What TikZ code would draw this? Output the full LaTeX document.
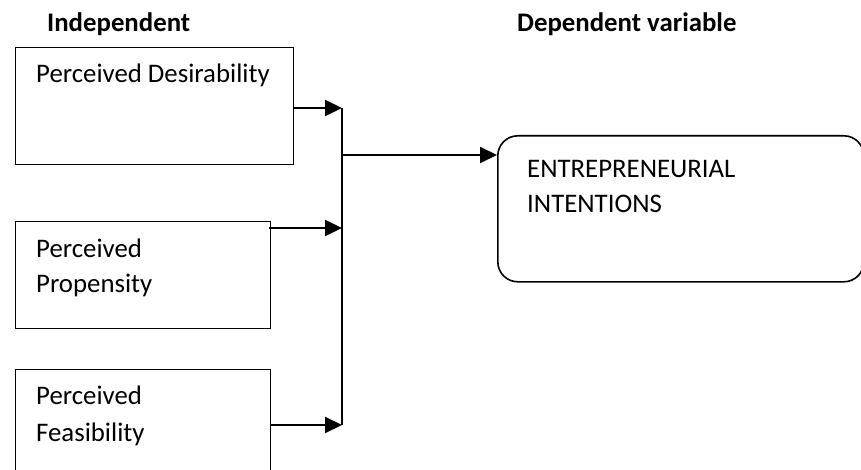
\documentclass[tikz,border=0pt]{standalone}
\usepackage{fontspec}
\setmainfont{Carlito}
\usetikzlibrary{arrows.meta,positioning}

\begin{document}
\begin{tikzpicture}[
            x=1pt, y=-1pt,
            box/.style={draw, line width=1.1pt, inner sep=0pt, anchor=north west},
            rbox/.style={draw, line width=1.6pt, rounded corners=20pt, inner sep=0pt, anchor=north west},
            txt/.style={anchor=base west, inner sep=0pt},
            arr/.style={line width=2pt, -{Triangle[length=17pt, width=16pt]}},
            font={\fontsize{26.8pt}{32pt}\selectfont}
        ]
        \useasboundingbox (0,0) rectangle (861,470);
        % headings
        \node[txt] (indep) at (47,32) {\bfseries Independent};
        \node[txt] (dep) at (517,32) {\bfseries Dependent variable};
        % left boxes, text sits at the top of each box
        \node[box, minimum width=278pt, minimum height=117pt] (des) at (15,47) {};
        \node[txt] (desT) at (36,83) {Perceived Desirability};
        \node[box, minimum width=255pt, minimum height=107pt] (pro) at (15,221) {};
        \node[txt] (proT1) at (36,257) {Perceived};
        \node[txt] (proT2) at (36,292) {Propensity};
        \node[box, minimum width=255pt, minimum height=120pt] (fea) at (15,369) {};
        \node[txt] (feaT1) at (36,404) {Perceived};
        \node[txt] (feaT2) at (36,441) {Feasibility};
        % right box
        \node[rbox, minimum width=366pt, minimum height=146pt] (ent) at (497,135) {};
        \node[txt] (entT1) at (527,178) {ENTREPRENEURIAL};
        \node[txt] (entT2) at (527,213) {INTENTIONS};
        % joining line
        \coordinate (j1) at (342,108);
        \coordinate (j2) at (342,228);
        \coordinate (j3) at (342,425);
        \coordinate (jout) at (342,155);
        \draw[line width=1.6pt] (j1) -- (j3);
        \draw[arr] (des.east |- j1) -- (j1);
        \draw[arr] ([xshift=-2pt]pro.east |- j2) -- (j2);
        \draw[arr] (fea.east |- j3) -- (j3);
        \draw[arr] (jout) -- (ent.west |- jout);
    \end{tikzpicture}
\end{document}
